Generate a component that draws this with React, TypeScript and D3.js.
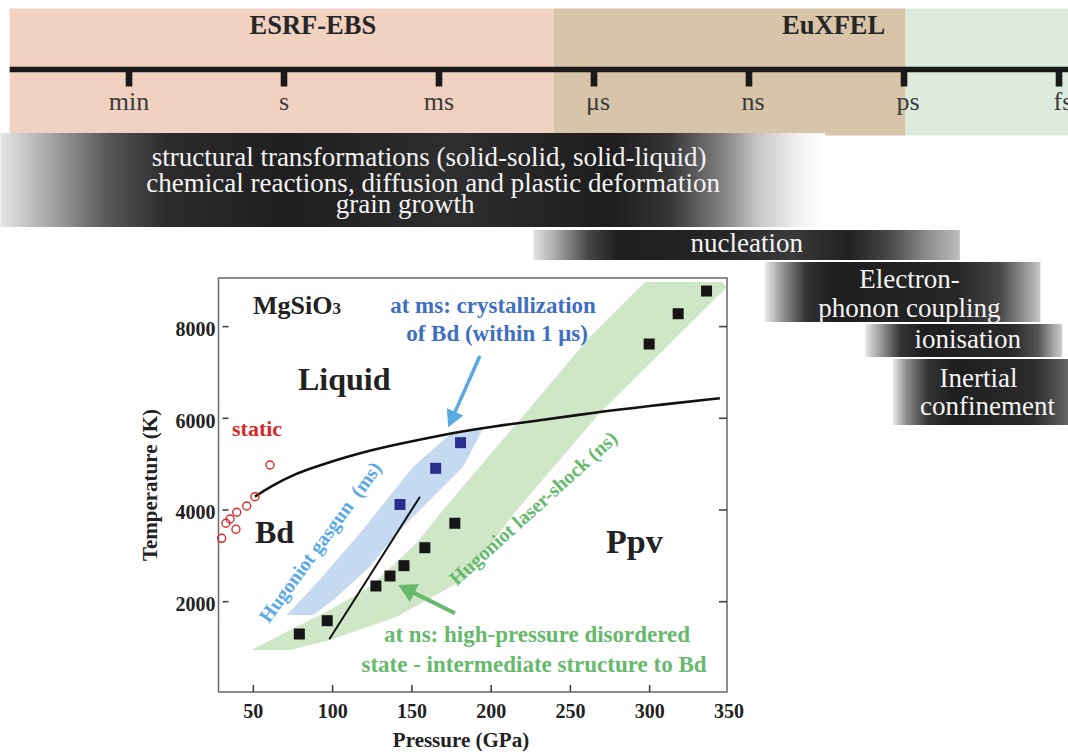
import React from "react";
import * as d3 from "d3";

// ---------- timeline data ----------
const timeUnits = ["min", "s", "ms", "μs", "ns", "ps", "fs"];
const facilityNames = ["ESRF-EBS", "EuXFEL", ""];
const facilityFrom = [-0.77, 2.74, 5.01];
const facilityTo = [2.74, 5.01, 6.06];
const facilityLabelAt = [1.186, 4.546, 0];

const processLines = [
  ["structural transformations (solid-solid, solid-liquid)", "chemical reactions, diffusion and plastic deformation", "grain growth"],
  ["nucleation"],
  ["Electron-", "phonon coupling"],
  ["ionisation"],
  ["Inertial", "confinement"],
];
const processFrom = [-0.83, 2.61, 4.1, 4.75, 4.93];
const processTo = [4.49, 5.36, 5.88, 6.02, 6.06];

// ---------- phase diagram data (Pressure GPa, Temperature K) ----------
const laserShockP = [79.0, 96.6, 127.3, 136.2, 145.0, 158.2, 177.1, 299.7, 318.0, 335.9];
const laserShockT = [1295, 1585, 2342, 2560, 2785, 3177, 3710, 7620, 8281, 8776];

const gasgunP = [142.5, 165.0, 180.7];
const gasgunT = [4120, 4909, 5468];

const staticP = [60.5, 51.0, 45.8, 39.5, 35.3, 32.7, 39.0, 30.0];
const staticT = [4981, 4290, 4087, 3950, 3803, 3710, 3579, 3382];

const meltP = [51, 60.5, 77, 92, 123.5, 150, 182.4, 205, 222, 264, 300, 344.3];
const meltT = [4290, 4508, 4800, 4981, 5308, 5500, 5723, 5840, 5915, 6120, 6270, 6436];

const bdLineP = [97.9, 155.1];
const bdLineT = [1179, 4290];

const gasgunBandP = [71.0, 89.9, 117.2, 150.8, 175.1, 195.0, 182.4, 140.4, 123.5, 100.4, 87.8];
const gasgunBandT = [1710, 2401, 3491, 4944, 5679, 5782, 4944, 3491, 2763, 2037, 1710];

const laserBandP = [48.9, 73.1, 98.3, 123.5, 153.0, 169.6, 224.4, 262.3, 297.0, 345.5, 348.8, 268.6, 216.2, 182.4, 140.4, 98.3, 73.1];
const laserBandT = [946, 1382, 1819, 2327, 3280, 4000, 6225, 7773, 8973, 8973, 8864, 6115, 4000, 2473, 1672, 1164, 946];

const blueArrowP = [192.9, 172.9];
const blueArrowT = [7359, 5803];
const greenArrowP = [177.2, 141.4];
const greenArrowT = [1747, 2364];

const xTicks = [50, 100, 150, 200, 250, 300, 350];
const yTicks = [2000, 4000, 6000, 8000];

// ---------- styles ----------
const SERIF = "'Liberation Serif', 'Times New Roman', serif";
const facilityColors = ["#f1d2c1", "#d8c5a9", "#dcebdc"];
const barRows = [
  { y: 133, h: 94, size: 27, baselines: [166, 192, 213], dx: [16.5, 20.5, -7.5] },
  { y: 230, h: 30, size: 27, baselines: [252], dx: [0] },
  { y: 262, h: 60, size: 27, baselines: [288, 317], dx: [7, 7] },
  { y: 324, h: 33, size: 27, baselines: [348], dx: [4] },
  { y: 359, h: 66, size: 27, baselines: [387, 415], dx: [-2, 7] },
];
const barStops: [number, string][][] = [
  [[0, "#e6e6e6"], [0.06, "#a6a6a6"], [0.13, "#575757"], [0.2, "#2c2c2c"], [0.35, "#1e1e1e"], [0.55, "#2e2e2e"], [0.74, "#1d1d1d"], [0.81, "#343434"], [0.87, "#7a7a7a"], [0.92, "#c8c8c8"], [0.97, "#f3f3f3"], [1, "#ffffff"]],
  [[0, "#e2e2e2"], [0.05, "#ababab"], [0.13, "#444"], [0.2, "#1e1e1e"], [0.45, "#262626"], [0.6, "#3a3a3a"], [0.74, "#222"], [0.83, "#454545"], [0.92, "#8a8a8a"], [1, "#bdbdbd"]],
  [[0, "#eeeeee"], [0.06, "#9a9a9a"], [0.15, "#333"], [0.25, "#1e1e1e"], [0.7, "#262626"], [0.85, "#454545"], [0.95, "#999"], [1, "#c8c8c8"]],
  [[0, "#e8e8e8"], [0.08, "#999"], [0.18, "#333"], [0.3, "#1e1e1e"], [0.75, "#2a2a2a"], [0.88, "#555"], [0.96, "#aaa"], [1, "#cccccc"]],
  [[0, "#e8e8e8"], [0.08, "#8a8a8a"], [0.2, "#333"], [0.35, "#1e1e1e"], [0.8, "#2b2b2b"], [0.95, "#555"], [1, "#666"]],
];

export default function App() {
  const t = d3.scaleLinear().domain([0, 6]).range([129, 1059]);
  const x = d3.scaleLinear().domain([28, 348.8]).range([218.5, 727]);
  const y = d3.scaleLinear().domain([30, 9060]).range([692, 278]);
  const [x0, x1] = x.range();
  const [y0, y1] = y.range();

  const zipPT = (P: number[], T: number[]) => P.map((p, i) => [p, T[i]] as [number, number]);
  const poly = d3.line<[number, number]>().x((d) => x(d[0])).y((d) => y(d[1]));
  const melt = d3.line<[number, number]>().x((d) => x(d[0])).y((d) => y(d[1])).curve(d3.curveBasis);

  const arrow = (P: number[], T: number[], len: number, half: number, color: string, width: number) => {
    const ax = x(P[0]), ay = y(T[0]), bx = x(P[1]), by = y(T[1]);
    const L = Math.hypot(bx - ax, by - ay);
    const ux = (bx - ax) / L, uy = (by - ay) / L;
    const cx = bx - ux * len, cy = by - uy * len;
    const pts = [[bx, by], [cx - uy * half, cy + ux * half], [cx + uy * half, cy - ux * half]];
    return (
      <g>
        <line x1={ax} y1={ay} x2={cx + ux * 2} y2={cy + uy * 2} stroke={color} strokeWidth={width} />
        <polygon points={pts.map((p) => p.join(",")).join(" ")} fill={color} />
      </g>
    );
  };

  return (
    <svg width={1068} height={754} style={{ position: "absolute", left: 0, top: 0, display: "block" }} fontFamily={SERIF}>
      <defs>
        {barStops.map((stops, i) => (
          <linearGradient key={i} id={`bar${i}`} x1="0" y1="0" x2="1" y2="0">
            {stops.map(([o, c], j) => (
              <stop key={j} offset={o} stopColor={c} />
            ))}
          </linearGradient>
        ))}
      </defs>

      {/* facility bands */}
      {facilityNames.map((n, i) => (
        <rect key={i} x={t(facilityFrom[i])} y={8.5} width={t(facilityTo[i]) - t(facilityFrom[i])} height={127} fill={facilityColors[i]} />
      ))}
      {facilityNames.map((n, i) =>
        n ? (
          <text key={i} x={t(facilityLabelAt[i])} y={34} textAnchor="middle" fontWeight="bold" fontSize={26.5} fill="#262626">
            {n}
          </text>
        ) : null
      )}
      {/* time axis */}
      <line x1={t(facilityFrom[0])} x2={1068} y1={69.5} y2={69.5} stroke="#1a1a1a" strokeWidth={5.5} />
      {timeUnits.map((u, i) => (
        <g key={u}>
          <rect x={t(i) - 3.3} y={70} width={6.6} height={16.5} fill="#1a1a1a" />
          <text x={t(i) + (i >= 3 ? 4 : 0)} y={110} textAnchor="middle" fontSize={26} fill="#3a3a3a">
            {u}
          </text>
        </g>
      ))}

      {/* process bars */}
      {processLines.map((lines, i) => {
        const r = barRows[i];
        const bx0 = Math.max(0, t(processFrom[i]));
        const bx1 = Math.min(1068, t(processTo[i]));
        const cx = (bx0 + bx1) / 2;
        return (
          <g key={i}>
            <rect x={bx0} y={r.y} width={bx1 - bx0} height={r.h} fill={`url(#bar${i})`} />
            {lines.map((l, j) => (
              <text key={j} x={cx + r.dx[j]} y={r.baselines[j]} textAnchor="middle" fontSize={r.size} fill="#f4f4f4">
                {l}
              </text>
            ))}
          </g>
        );
      })}

      {/* phase diagram */}
      <path d={poly(zipPT(laserBandP, laserBandT))! + "Z"} fill="#cfe6c7" />
      <path d={poly(zipPT(gasgunBandP, gasgunBandT))! + "Z"} fill="#c5daf1" />

      {/* frame */}
      <rect x={x0} y={y1} width={x1 - x0} height={y0 - y1} fill="none" stroke="#707070" strokeWidth={1.6} />
      {xTicks.filter((v) => x(v) < x1 - 1).map((v) => (
        <line key={v} x1={x(v)} x2={x(v)} y1={y0} y2={y0 - 7} stroke="#444" strokeWidth={1.6} />
      ))}
      {yTicks.map((v) => (
        <g key={v}>
          <line x1={x0 + 4} x2={x0 + 10} y1={y(v)} y2={y(v)} stroke="#444" strokeWidth={1.6} />
          <line x1={x1} x2={x1 - 8} y1={y(v)} y2={y(v)} stroke="#444" strokeWidth={1.6} />
          <text x={x0 - 3} y={y(v) + 9.5} textAnchor="end" fontSize={20} fontWeight="bold" fill="#222">
            {v}
          </text>
        </g>
      ))}
      {xTicks.map((v) => (
        <text key={v} x={x(v)} y={718} textAnchor="middle" fontSize={20} fontWeight="bold" fill="#222">
          {v}
        </text>
      ))}
      <text x={461} y={747} textAnchor="middle" fontSize={21} fontWeight="bold" fill="#222">
        Pressure (GPa)
      </text>
      <text transform="translate(157,485) rotate(-90)" textAnchor="middle" fontSize={21} fontWeight="bold" fill="#222">
        Temperature (K)
      </text>

      {/* lines */}
      <path d={melt(zipPT(meltP, meltT))!} fill="none" stroke="#111" strokeWidth={2.6} />
      <path d={poly(zipPT(bdLineP, bdLineT))!} fill="none" stroke="#111" strokeWidth={2} />

      {/* static points */}
      {staticP.map((p, i) => (
        <circle key={i} cx={x(p)} cy={y(staticT[i])} r={4} fill="none" stroke="#dd2a2a" strokeWidth={1.4} />
      ))}
      {/* laser-shock points */}
      {laserShockP.map((p, i) => (
        <rect key={i} x={x(p) - 5.5} y={y(laserShockT[i]) - 5.5} width={11} height={11} fill="#161616" />
      ))}
      {/* gasgun points */}
      {gasgunP.map((p, i) => (
        <rect key={i} x={x(p) - 5.5} y={y(gasgunT[i]) - 5.5} width={11} height={11} fill="#2a2e8e" />
      ))}

      {/* arrows */}
      {arrow(blueArrowP, blueArrowT, 17, 9, "#5aa8e2", 3.5)}
      {arrow(greenArrowP, greenArrowT, 18, 10, "#66b96d", 4)}

      {/* annotations */}
      <text x={253} y={314} fontSize={26} fontWeight="bold" fill="#222">
        MgSiO<tspan fontSize={17}>3</tspan>
      </text>
      <text x={298} y={390} fontSize={32} fontWeight="bold" fill="#222">Liquid</text>
      <text x={232} y={436} fontSize={22} fontWeight="bold" fill="#d42a2a">static</text>
      <text x={255} y={543} fontSize={32} fontWeight="bold" fill="#222">Bd</text>
      <text x={606} y={553} fontSize={34} fontWeight="bold" fill="#222">Ppv</text>
      <text x={493} y={313} textAnchor="middle" fontSize={23} fontWeight="bold" fill="#3e6fc1">
        at ms: crystallization
      </text>
      <text x={497} y={341} textAnchor="middle" fontSize={23} fontWeight="bold" fill="#3e6fc1">
        of Bd (within 1 μs)
      </text>
      <text x={537} y={642} textAnchor="middle" fontSize={23} fontWeight="bold" fill="#66b96d">
        at ns: high-pressure disordered
      </text>
      <text x={534} y={672} textAnchor="middle" fontSize={23} fontWeight="bold" fill="#66b96d">
        state - intermediate structure to Bd
      </text>
      <text transform="translate(320,542) rotate(-53.9)" textAnchor="middle" dominantBaseline="central" fontSize={20} fontWeight="bold" fill="#5aaae6" xmlSpace="preserve">
        Hugoniot gasgun  (ms)
      </text>
      <text transform="translate(533,508) rotate(-42.1)" textAnchor="middle" dominantBaseline="central" fontSize={20} fontWeight="bold" fill="#66b96d">
        Hugoniot laser-shock (ns)
      </text>
    </svg>
  );
}
